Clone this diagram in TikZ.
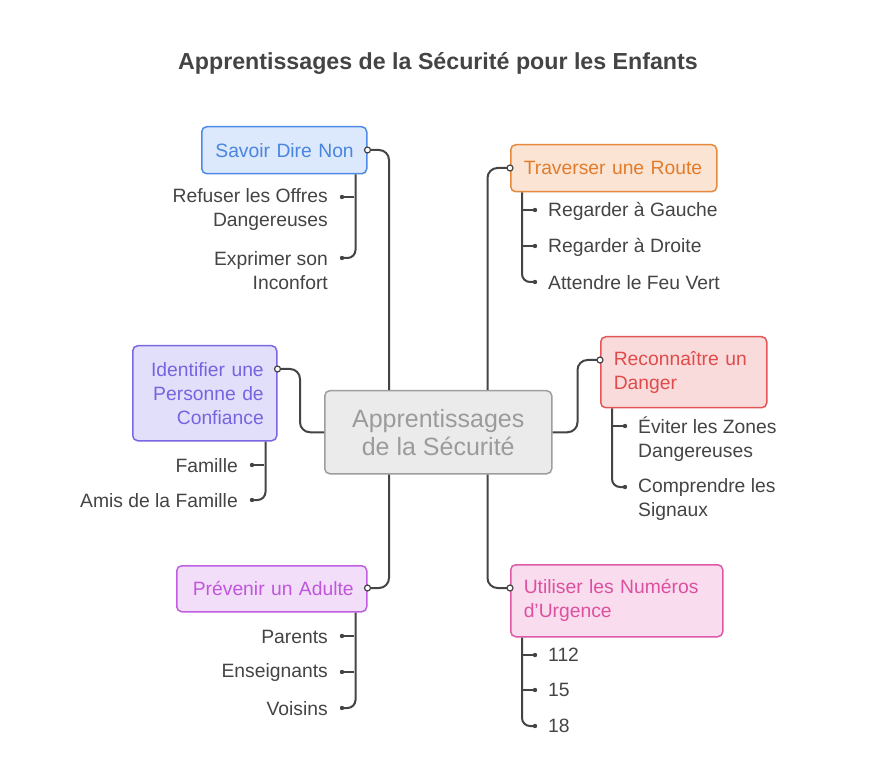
\documentclass[tikz,border=0pt]{standalone}
\usepackage{fontspec}
\setmainfont{Liberation Sans}
\usetikzlibrary{calc}
\definecolor{ink}{HTML}{444444}
\definecolor{savF}{HTML}{DCE8FB}\definecolor{savD}{HTML}{4F8AE6}\definecolor{savT}{HTML}{4A85E0}
\definecolor{trvF}{HTML}{FBE4D3}\definecolor{trvD}{HTML}{E6893C}\definecolor{trvT}{HTML}{E27C2C}
\definecolor{recF}{HTML}{FADBDB}\definecolor{recD}{HTML}{E35656}\definecolor{recT}{HTML}{E04B4B}
\definecolor{idnF}{HTML}{E2DFFB}\definecolor{idnD}{HTML}{7B66E3}\definecolor{idnT}{HTML}{7763E0}
\definecolor{prvF}{HTML}{F2DEF8}\definecolor{prvD}{HTML}{C05FE0}\definecolor{prvT}{HTML}{BF56DC}
\definecolor{utlF}{HTML}{F9DCEE}\definecolor{utlD}{HTML}{E058A8}\definecolor{utlT}{HTML}{DD50A0}
\definecolor{cenF}{HTML}{EBEBEB}\definecolor{cenD}{HTML}{9E9E9E}\definecolor{cenT}{HTML}{9B9B9B}
\tikzset{
  box/.style={draw, line width=1.5pt, rounded corners=5pt, anchor=north west,
    inner xsep=13pt, inner ysep=0pt, font=\fontsize{19.3}{24}\selectfont},
  leaf/.style={text=ink, inner sep=0pt, font=\fontsize{19.3}{24}\selectfont},
  conn/.style={draw=ink, line width=2pt, rounded corners=10pt},
  sub/.style={draw=ink, line width=2pt, rounded corners=8pt},
  odot/.style={draw=ink, fill=white, line width=1.2pt},
  fdot/.style={fill=ink},
}
\begin{document}
\begin{tikzpicture}[x=1pt,y=-1pt]
\useasboundingbox (0,0) rectangle (876,767);
\fill[white] (0,0) rectangle (876,767);
\node[text=ink, font=\fontsize{23.2}{28}\selectfont\bfseries] (title) at (438,63) {Apprentissages de la Sécurité pour les Enfants};

% center
\node[draw=cenD, fill=cenF, text=cenT, line width=1.5pt, rounded corners=5pt, anchor=north west,
  minimum width=227pt, minimum height=83pt, align=center, font=\fontsize{25}{28}\selectfont] (cen) at (324,390) {Apprentissages\\de la Sécurité};

% boxes
\node[box, draw=savD, fill=savF, text=savT, text width=139pt, align=right, minimum height=47pt] (sav) at (201,126) {Savoir Dire Non};
\node[box, draw=trvD, fill=trvF, text=trvT, text width=180pt, align=left, minimum height=47pt] (trv) at (510,144) {Traverser une Route};
\node[box, draw=recD, fill=recF, text=recT, text width=140pt, align=left, minimum height=71pt] (rec) at (600,336) {Reconnaître un\\Danger};
\node[box, draw=idnD, fill=idnF, text=idnT, text width=118pt, align=right, minimum height=95pt] (idn) at (132,345) {Identifier une\\Personne de\\Confiance};
\node[box, draw=prvD, fill=prvF, text=prvT, text width=164pt, align=right, minimum height=46pt] (prv) at (176,565) {Prévenir un Adulte};
\node[box, draw=utlD, fill=utlF, text=utlT, text width=186pt, align=left, minimum height=72pt] (utl) at (510,564) {Utiliser les Numéros\\d'Urgence};

% main connectors
\coordinate (cTL) at ($(cen.north west)+(65,0)$);
\coordinate (cTR) at ($(cen.north east)+(-65,0)$);
\coordinate (cBL) at ($(cen.south west)+(65,0)$);
\coordinate (cBR) at ($(cen.south east)+(-65,0)$);
\coordinate (pSav) at ($(sav.north east)+(0,24)$);
\coordinate (pTrv) at ($(trv.north west)+(0,24)$);
\coordinate (pRec) at ($(rec.north west)+(0,24)$);
\coordinate (pIdn) at ($(idn.north east)+(0,24)$);
\coordinate (pPrv) at ($(prv.north east)+(0,23)$);
\coordinate (pUtl) at ($(utl.north west)+(0,24)$);
\draw[conn] (cTL) |- (pSav);
\draw[conn] (cTR) |- (pTrv);
\draw[conn] (cBL) |- (pPrv);
\draw[conn] (cBR) |- (pUtl);
\draw[conn] (cen.west) -- ++(-24,0) |- (pIdn);
\draw[conn] (cen.east) -- ++(25,0) |- (pRec);
\foreach \p in {pSav,pTrv,pRec,pIdn,pPrv,pUtl} \draw[odot] (\p) circle (3pt);

% Savoir children
\node[leaf, anchor=east, align=right] (s1) at (328,210) {Refuser les Offres\\Dangereuses};
\node[leaf, anchor=east, align=right] (s2) at (328,271) {Exprimer son\\Inconfort};
\coordinate (ds1) at (342,197); \coordinate (ds2) at (342,258);
\draw[sub] ($(sav.south east)+(-12,0)$) |- (ds2);
\draw[sub] (354,197) -- (ds1);
\foreach \p in {ds1,ds2} \fill[fdot] (\p) circle (2.2pt);

% Traverser children
\node[leaf, anchor=west] (t1) at (548,211) {Regarder à Gauche};
\node[leaf, anchor=west] (t2) at (548,247) {Regarder à Droite};
\node[leaf, anchor=west] (t3) at (548,283) {Attendre le Feu Vert};
\coordinate (dt1) at (535,210); \coordinate (dt2) at (535,246); \coordinate (dt3) at (535,282);
\draw[sub] ($(trv.south west)+(12,0)$) |- (dt3);
\draw[sub] (522,210) -- (dt1);
\draw[sub] (522,246) -- (dt2);
\foreach \p in {dt1,dt2,dt3} \fill[fdot] (\p) circle (2.2pt);

% Reconnaitre children
\node[leaf, anchor=west, align=left] (r1) at (638,439) {Éviter les Zones\\Dangereuses};
\node[leaf, anchor=west, align=left] (r2) at (638,500) {Comprendre les\\Signaux};
\coordinate (dr1) at (625,426); \coordinate (dr2) at (625,487);
\draw[sub] ($(rec.south west)+(12,0)$) |- (dr2);
\draw[sub] (612,426) -- (dr1);
\foreach \p in {dr1,dr2} \fill[fdot] (\p) circle (2.2pt);

% Identifier children
\node[leaf, anchor=east] (i1) at (238,466) {Famille};
\node[leaf, anchor=east] (i2) at (238,501) {Amis de la Famille};
\coordinate (di1) at (252,465); \coordinate (di2) at (252,500);
\draw[sub] ($(idn.south east)+(-12,0)$) |- (di2);
\draw[sub] (264,465) -- (di1);
\foreach \p in {di1,di2} \fill[fdot] (\p) circle (2.2pt);

% Prevenir children
\node[leaf, anchor=east] (p1) at (328,637) {Parents};
\node[leaf, anchor=east] (p2) at (328,673) {Enseignants};
\node[leaf, anchor=east] (p3) at (328,709) {Voisins};
\coordinate (dp1) at (342,636); \coordinate (dp2) at (342,672); \coordinate (dp3) at (342,708);
\draw[sub] ($(prv.south east)+(-12,0)$) |- (dp3);
\draw[sub] (354,636) -- (dp1);
\draw[sub] (354,672) -- (dp2);
\foreach \p in {dp1,dp2,dp3} \fill[fdot] (\p) circle (2.2pt);

% Utiliser children
\node[leaf, anchor=west] (u1) at (548,655) {112};
\node[leaf, anchor=west] (u2) at (548,690) {15};
\node[leaf, anchor=west] (u3) at (548,726) {18};
\coordinate (du1) at (535,655); \coordinate (du2) at (535,690); \coordinate (du3) at (535,726);
\draw[sub] ($(utl.south west)+(12,0)$) |- (du3);
\draw[sub] (522,655) -- (du1);
\draw[sub] (522,690) -- (du2);
\foreach \p in {du1,du2,du3} \fill[fdot] (\p) circle (2.2pt);
\end{tikzpicture}
\end{document}
